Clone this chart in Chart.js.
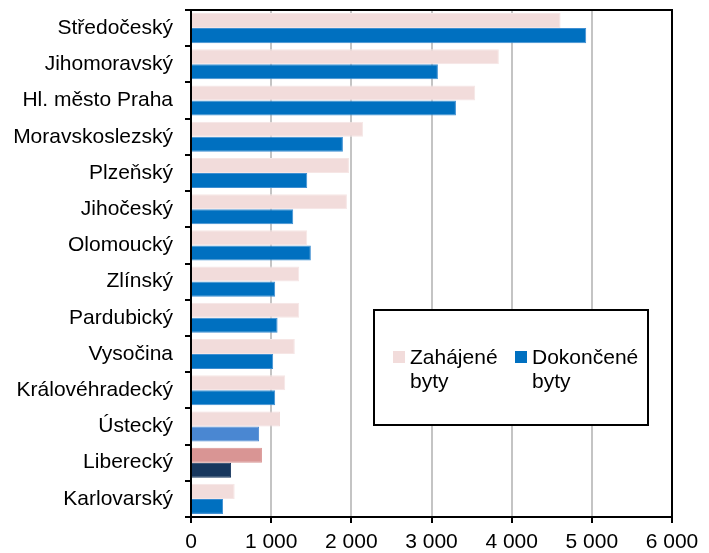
<!DOCTYPE html>
<html>
<head>
<meta charset="utf-8">
<script src="https://cdn.jsdelivr.net/npm/chart.js@4"></script>
<style>
  html, body { margin: 0; padding: 0; background: #fff; }
  #wrap { width: 709px; height: 553px; }
</style>
</head>
<body>
<div id="wrap"><canvas id="chart" width="709" height="553"></canvas></div>
<script>
// regions, top to bottom
const regions = ['Středočeský', 'Jihomoravský', 'Hl. město Praha', 'Moravskoslezský', 'Plzeňský', 'Jihočeský',
  'Olomoucký', 'Zlínský', 'Pardubický', 'Vysočina', 'Královéhradecký', 'Ústecký', 'Liberecký', 'Karlovarský'];
const zahajene = [4610, 3840, 3545, 2145, 1970, 1945, 1450, 1350, 1350, 1295, 1175, 1110, 885, 545];
const dokoncene = [4930, 3080, 3305, 1895, 1450, 1275, 1495, 1050, 1080, 1025, 1050, 850, 500, 400];
const seriesNames = [['Zahájené', 'byty'], ['Dokončené', 'byty']];
const xTicks = [0, 1000, 2000, 3000, 4000, 5000, 6000];

const PINK = '#F2DCDB', BLUE = '#0070C0';
// highlighted rows
const special = {
  'Ústecký': [PINK, '#4A87D2'],
  'Liberecký': ['#D99594', '#17375E']
};
const FONT = 'Liberation Sans, Arial, sans-serif';

function fmt(v){
  return v >= 1000 ? Math.floor(v/1000) + ' ' + String(v % 1000).padStart(3, '0') : String(v);
}

const frame = {
  id: 'frame',
  afterDraw(chart){
    const ctx = chart.ctx, a = chart.chartArea;
    ctx.save();
    // top and right border of plot
    ctx.strokeStyle = '#000';
    ctx.lineWidth = 2;
    ctx.beginPath();
    ctx.moveTo(a.left, a.top);
    ctx.lineTo(a.right, a.top);
    ctx.lineTo(a.right, a.bottom);
    ctx.stroke();

    // legend box
    const bx = 374, by = 310, bw = 274, bh = 115;
    ctx.fillStyle = '#fff';
    ctx.fillRect(bx, by, bw, bh);
    ctx.lineWidth = 2;
    ctx.strokeRect(bx, by, bw, bh);
    const cols = [PINK, BLUE];
    const xs = [393, 515];
    ctx.font = '21px ' + FONT;
    ctx.textBaseline = 'middle';
    seriesNames.forEach((lines, i) => {
      ctx.fillStyle = cols[i];
      ctx.fillRect(xs[i], 351, 12, 12);
      ctx.fillStyle = '#000';
      lines.forEach((t, j) => ctx.fillText(t, xs[i] + 17, 358 + j * 24));
    });
    ctx.restore();
  }
};

new Chart(document.getElementById('chart'), {
  type: 'bar',
  data: {
    labels: regions,
    datasets: [
      {
        label: seriesNames[0].join(' '),
        data: zahajene,
        backgroundColor: c => (special[regions[c.dataIndex]] || [PINK])[0],
        borderColor: c => special[regions[c.dataIndex]] ? (special[regions[c.dataIndex]][0]) : '#F6E6E5',
        borderWidth: 1,
        categoryPercentage: 0.83,
        barPercentage: 1
      },
      {
        label: seriesNames[1].join(' '),
        data: dokoncene,
        backgroundColor: c => (special[regions[c.dataIndex]] || [0, BLUE])[1],
        borderColor: c => special[regions[c.dataIndex]] ? special[regions[c.dataIndex]][1] : '#3F8FD2',
        borderWidth: 1,
        categoryPercentage: 0.83,
        barPercentage: 1
      }
    ]
  },
  options: {
    indexAxis: 'y',
    responsive: false,
    animation: false,
    layout: { padding: { top: 10, right: 37, left: 0, bottom: 0 } },
    plugins: { legend: { display: false }, tooltip: { enabled: false } },
    scales: {
      x: {
        min: 0, max: 6000,
        afterBuildTicks: s => { s.ticks = xTicks.map(v => ({ value: v })); },
        afterFit: s => { s.height = 36; s.paddingLeft = 0; s.paddingRight = 0; },
        grid: { color: '#C4C4C4', lineWidth: 2, tickColor: '#000', tickLength: 6, drawTicks: true },
        border: { color: '#000', width: 2 },
        ticks: { color: '#000', font: { family: FONT, size: 21 }, padding: 7, callback: v => fmt(v), maxRotation: 0 }
      },
      y: {
        afterFit: s => { s.width = 191; s.paddingTop = 0; s.paddingBottom = 0; },
        grid: { drawOnChartArea: false, color: '#000', tickColor: '#000', tickLength: 6, lineWidth: 2, offset: true },
        border: { color: '#000', width: 2 },
        ticks: { color: '#000', font: { family: FONT, size: 21 }, padding: 12 }
      }
    }
  },
  plugins: [frame]
});
</script>
</body>
</html>
